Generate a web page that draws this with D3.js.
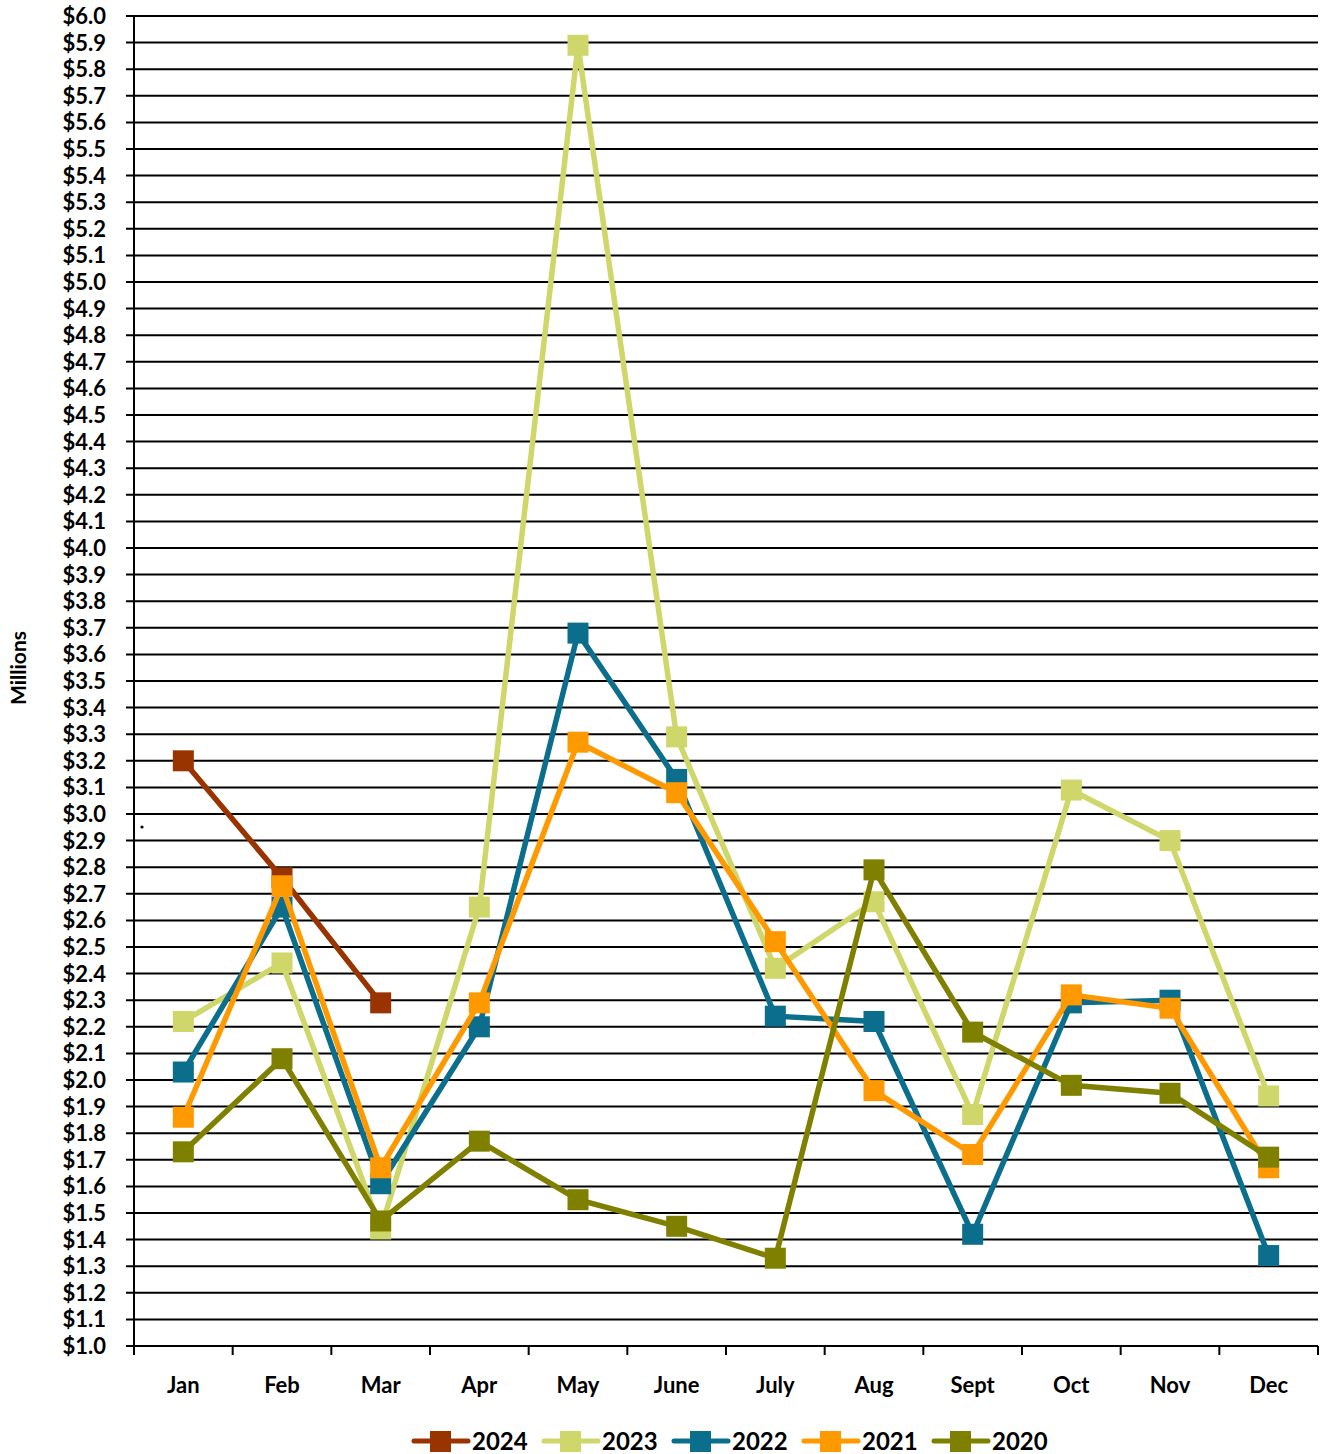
<!DOCTYPE html>
<html>
<head>
<meta charset="utf-8">
<script src="https://cdn.jsdelivr.net/npm/d3@7"></script>
<style>
body{margin:0;background:#fff;}
text{font-family:Lato,"Open Sans",sans-serif;font-weight:bold;fill:#000;}
</style>
</head>
<body>
<svg id="chart" width="1320" height="1454"></svg>
<script>
const months=["Jan","Feb","Mar","Apr","May","June","July","Aug","Sept","Oct","Nov","Dec"];
const years=["2024","2023","2022","2021","2020"];
const colors=["#993300","#cfd66a","#0a6e8c","#ff9900","#808000"];
const s2024=[3.20,2.76,2.29];
const s2023=[2.22,2.44,1.44,2.65,5.89,3.29,2.42,2.67,1.87,3.09,2.90,1.94];
const s2022=[2.03,2.65,1.61,2.20,3.68,3.13,2.24,2.22,1.42,2.29,2.30,1.34];
const s2021=[1.86,2.73,1.67,2.29,3.27,3.08,2.52,1.96,1.72,2.32,2.27,1.67];
const s2020=[1.73,2.08,1.47,1.77,1.55,1.45,1.33,2.79,2.18,1.98,1.95,1.71];
const yTicks=d3.range(10,61).map((d)=>d/10);

const series=[s2024,s2023,s2022,s2021,s2020];

const render=()=>{
  let svg=d3.select("#chart");
  let left=134,right=1318,top=16,bottom=1346;
  let x=d3.scaleBand().domain(months).range([left,right]);
  let y=d3.scaleLinear().domain([1,6]).range([bottom,top]);

  // gridlines
  svg.append("g")
    .selectAll("line")
    .data(yTicks)
    .enter()
      .append("line")
      .attr("x1",left-8)
      .attr("x2",right)
      .attr("y1",(d)=>y(d))
      .attr("y2",(d)=>y(d))
      .attr("stroke","#000")
      .attr("stroke-width",2);

  // y axis line
  svg.append("line")
    .attr("x1",left).attr("x2",left)
    .attr("y1",top).attr("y2",bottom)
    .attr("stroke","#000").attr("stroke-width",2);

  svg.append("g")
    .selectAll("text")
    .data(yTicks)
    .enter()
      .append("text")
      .attr("x",106)
      .attr("y",(d)=>y(d))
      .attr("dy","0.36em")
      .attr("text-anchor","end")
      .style("font-size","22px")
      .text((d)=>"$"+d.toFixed(1));

  // x axis ticks
  let bounds=months.map((m)=>x(m)).concat([right]);
  svg.append("g")
    .selectAll("line")
    .data(bounds)
    .enter()
      .append("line")
      .attr("x1",(d)=>d).attr("x2",(d)=>d)
      .attr("y1",bottom).attr("y2",bottom+9)
      .attr("stroke","#000").attr("stroke-width",2);

  svg.append("g")
    .selectAll("text")
    .data(months)
    .enter()
      .append("text")
      .attr("x",(d)=>x(d)+x.bandwidth()/2)
      .attr("y",1393)
      .attr("text-anchor","middle")
      .style("font-size","22px")
      .text((d)=>d);

  svg.append("text")
    .attr("transform","translate(26,668) rotate(-90)")
    .attr("text-anchor","middle")
    .style("font-size","21px")
    .text("Millions");

  svg.append("circle").attr("cx",142).attr("cy",827).attr("r",1.6).attr("fill","#000");

  let line=d3.line()
    .x((d,i)=>x(months[i])+x.bandwidth()/2)
    .y((d)=>y(d));

  let sz=21;
  series.forEach((s,k)=>{
    let g=svg.append("g");
    g.append("path")
      .attr("d",line(s))
      .attr("fill","none")
      .attr("stroke",colors[k])
      .attr("stroke-width",5.5);
    g.selectAll("rect")
      .data(s)
      .enter()
        .append("rect")
        .attr("x",(d,i)=>x(months[i])+x.bandwidth()/2-sz/2)
        .attr("y",(d)=>y(d)-sz/2)
        .attr("width",sz)
        .attr("height",sz)
        .attr("fill",colors[k]);
  });

  // legend
  let itemW=130,lx=412;
  let leg=svg.append("g")
    .selectAll("g")
    .data(years)
    .enter()
      .append("g")
      .attr("transform",(d,i)=>`translate(${lx+i*itemW},1441)`);
  leg.append("line")
    .attr("x1",2).attr("x2",56)
    .attr("stroke",(d,i)=>colors[i])
    .attr("stroke-width",5)
    .attr("stroke-linecap","round");
  leg.append("rect")
    .attr("x",18).attr("y",-10)
    .attr("width",21).attr("height",21)
    .attr("fill",(d,i)=>colors[i]);
  leg.append("text")
    .attr("x",60)
    .attr("dy","0.38em")
    .style("font-size","24px")
    .text((d)=>d);
}

window.onload=render;
</script>
</body>
</html>
